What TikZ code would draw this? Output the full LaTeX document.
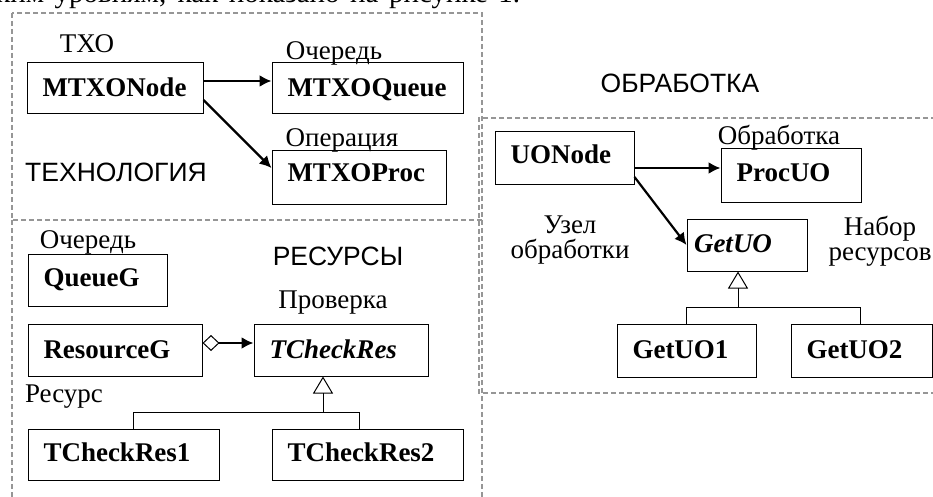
\documentclass[tikz,border=0pt]{standalone}
\usepackage{fontspec}
\setmainfont{Liberation Serif}
\newfontfamily\sansf{Liberation Sans}
\usetikzlibrary{arrows.meta}
\definecolor{framegray}{RGB}{150,150,150}
\begin{document}
\begin{tikzpicture}[x=1pt,y=-1pt,
  cls/.style={draw,line width=1pt,inner xsep=15.5pt,inner ysep=0pt,align=left,
    text height=16pt,text depth=0pt,font=\fontsize{27}{30}\selectfont\bfseries},
  icls/.style={cls,font=\fontsize{27}{30}\selectfont\bfseries\itshape},
  lbl/.style={inner sep=0pt,anchor=base,font=\fontsize{27}{30}\selectfont},
  lbl2/.style={inner sep=0pt,align=center,font=\fontsize{27}{24.5}\selectfont},
  slbl/.style={inner sep=0pt,anchor=base,font=\fontsize{26.5}{30}\selectfont\sansf},
  frame/.style={draw=framegray,line width=1.5pt,dash pattern=on 5pt off 3pt},
  assoc/.style={line width=2.2pt,-{Latex[length=12pt,width=12pt]}},
  inh/.style={line width=1pt},
  inhtip/.style={line width=1pt,-{Triangle[open,length=17pt,width=20pt]}},
]
\useasboundingbox (0,0) rectangle (933,497);

% cut-off line of the surrounding text
\begin{scope}
\clip (0,0) rectangle (933,497);
\node[inner sep=0pt,anchor=base west,font=\fontsize{29}{30}\selectfont] (topline) at (-4,3)
  {\makebox[524pt][s]{ким уровням, как показано на рисунке 1.}};
\end{scope}

% dashed frames
\draw[frame] (12,13) rectangle (482,220);
\draw[frame] (12,220) -- (12,500);
\draw[frame] (482,220) -- (482,500);
\draw[frame] (936,118) -- (479,118) -- (479,393) -- (936,393);

% section titles
\node[slbl] (tech) at (116,182) {ТЕХНОЛОГИЯ};
\node[slbl] (res) at (338,265) {РЕСУРСЫ};
\node[slbl] (obr) at (680,93) {ОБРАБОТКА};

% classes
\node[cls,minimum height=51pt,text width=145pt] (mtxonode) at (115,88.5) {MTXONode};
\node[cls,minimum height=51pt,text width=160pt] (mtxoqueue) at (367.5,88.5) {MTXOQueue};
\node[cls,minimum height=53pt,text width=143pt,text depth=7pt] (mtxoproc) at (359,177.5) {MTXOProc};
\node[cls,minimum height=52pt,text width=108pt,text depth=2.6pt] (queueg) at (97.5,280) {QueueG};
\node[cls,minimum height=52pt,text width=143pt] (resg) at (115,350) {ResourceG};
\node[icls,minimum height=52pt,text width=143pt] (tcheck) at (341,350) {TCheckRes};
\node[cls,minimum height=51pt,text width=160pt,text depth=2pt] (tcheck1) at (123.5,454.5) {TCheckRes1};
\node[cls,minimum height=51pt,text width=160pt,text depth=2pt] (tcheck2) at (367.5,454.5) {TCheckRes2};
\node[cls,minimum height=52pt,text width=108pt,text depth=4pt] (uonode) at (564.5,158) {UONode};
\node[cls,minimum height=53pt,text width=109pt,text depth=4pt] (procuo) at (791,175.5) {ProcUO};
\node[icls,minimum height=52pt,inner xsep=7pt,text width=106pt,text depth=1pt] (getuo) at (747,245) {GetUO};
\node[cls,minimum height=53pt,text width=108pt,text depth=1pt] (getuo1) at (686.5,350.5) {GetUO1};
\node[cls,minimum height=53pt,text width=110pt,text depth=1pt] (getuo2) at (861.5,350.5) {GetUO2};

% labels
\node[lbl] (l1) at (87,53) {ТХО};
\node[lbl] (l2) at (334,60) {Очередь};
\node[lbl] (l3) at (342,146.5) {Операция};
\node[lbl] (l4) at (88,248) {Очередь};
\node[lbl] (l5) at (333,308) {Проверка};
\node[lbl] (l6) at (64,402) {Ресурс};
\node[lbl] (l7) at (779,145) {Обработка};
\node[lbl2,anchor=north] (l8) at (570,216) {Узел\\обработки};
\node[lbl2,anchor=north] (l9) at (880,216) {Набор\\ресурсов};

% associations
\draw[assoc] ([yshift=7.5pt]mtxonode.east) -- ([yshift=7.5pt]mtxoqueue.west);
\draw[assoc] ([yshift=-11.5pt]mtxonode.east) -- ([yshift=9.5pt]mtxoproc.west);
\draw[assoc] ([yshift=-10pt]uonode.east) -- ([yshift=7.5pt]procuo.west);
\draw[assoc] ([yshift=-19pt]uonode.east) -- (getuo.west);
\draw[line width=2.2pt,{Diamond[open,line width=1pt,length=17pt,width=16pt]}-{Latex[length=12pt,width=12pt]}]
  ([yshift=7pt]resg.east) -- ([yshift=7pt]tcheck.west);

% inheritance (resources)
\coordinate (b1) at (323,412);
\draw[inh] ([xshift=9.5pt]tcheck1.north) |- (b1);
\draw[inh] ([xshift=-8.5pt]tcheck2.north) |- (b1);
\draw[inhtip] (b1) -- ([xshift=-18pt]tcheck.south);

% inheritance (processing)
\coordinate (b2) at (738,307);
\draw[inh] (getuo1.north) |- (b2);
\draw[inh] ([xshift=-1.5pt]getuo2.north) |- (b2);
\draw[inhtip] (b2) -- ([xshift=-9pt]getuo.south);
\end{tikzpicture}
\end{document}
